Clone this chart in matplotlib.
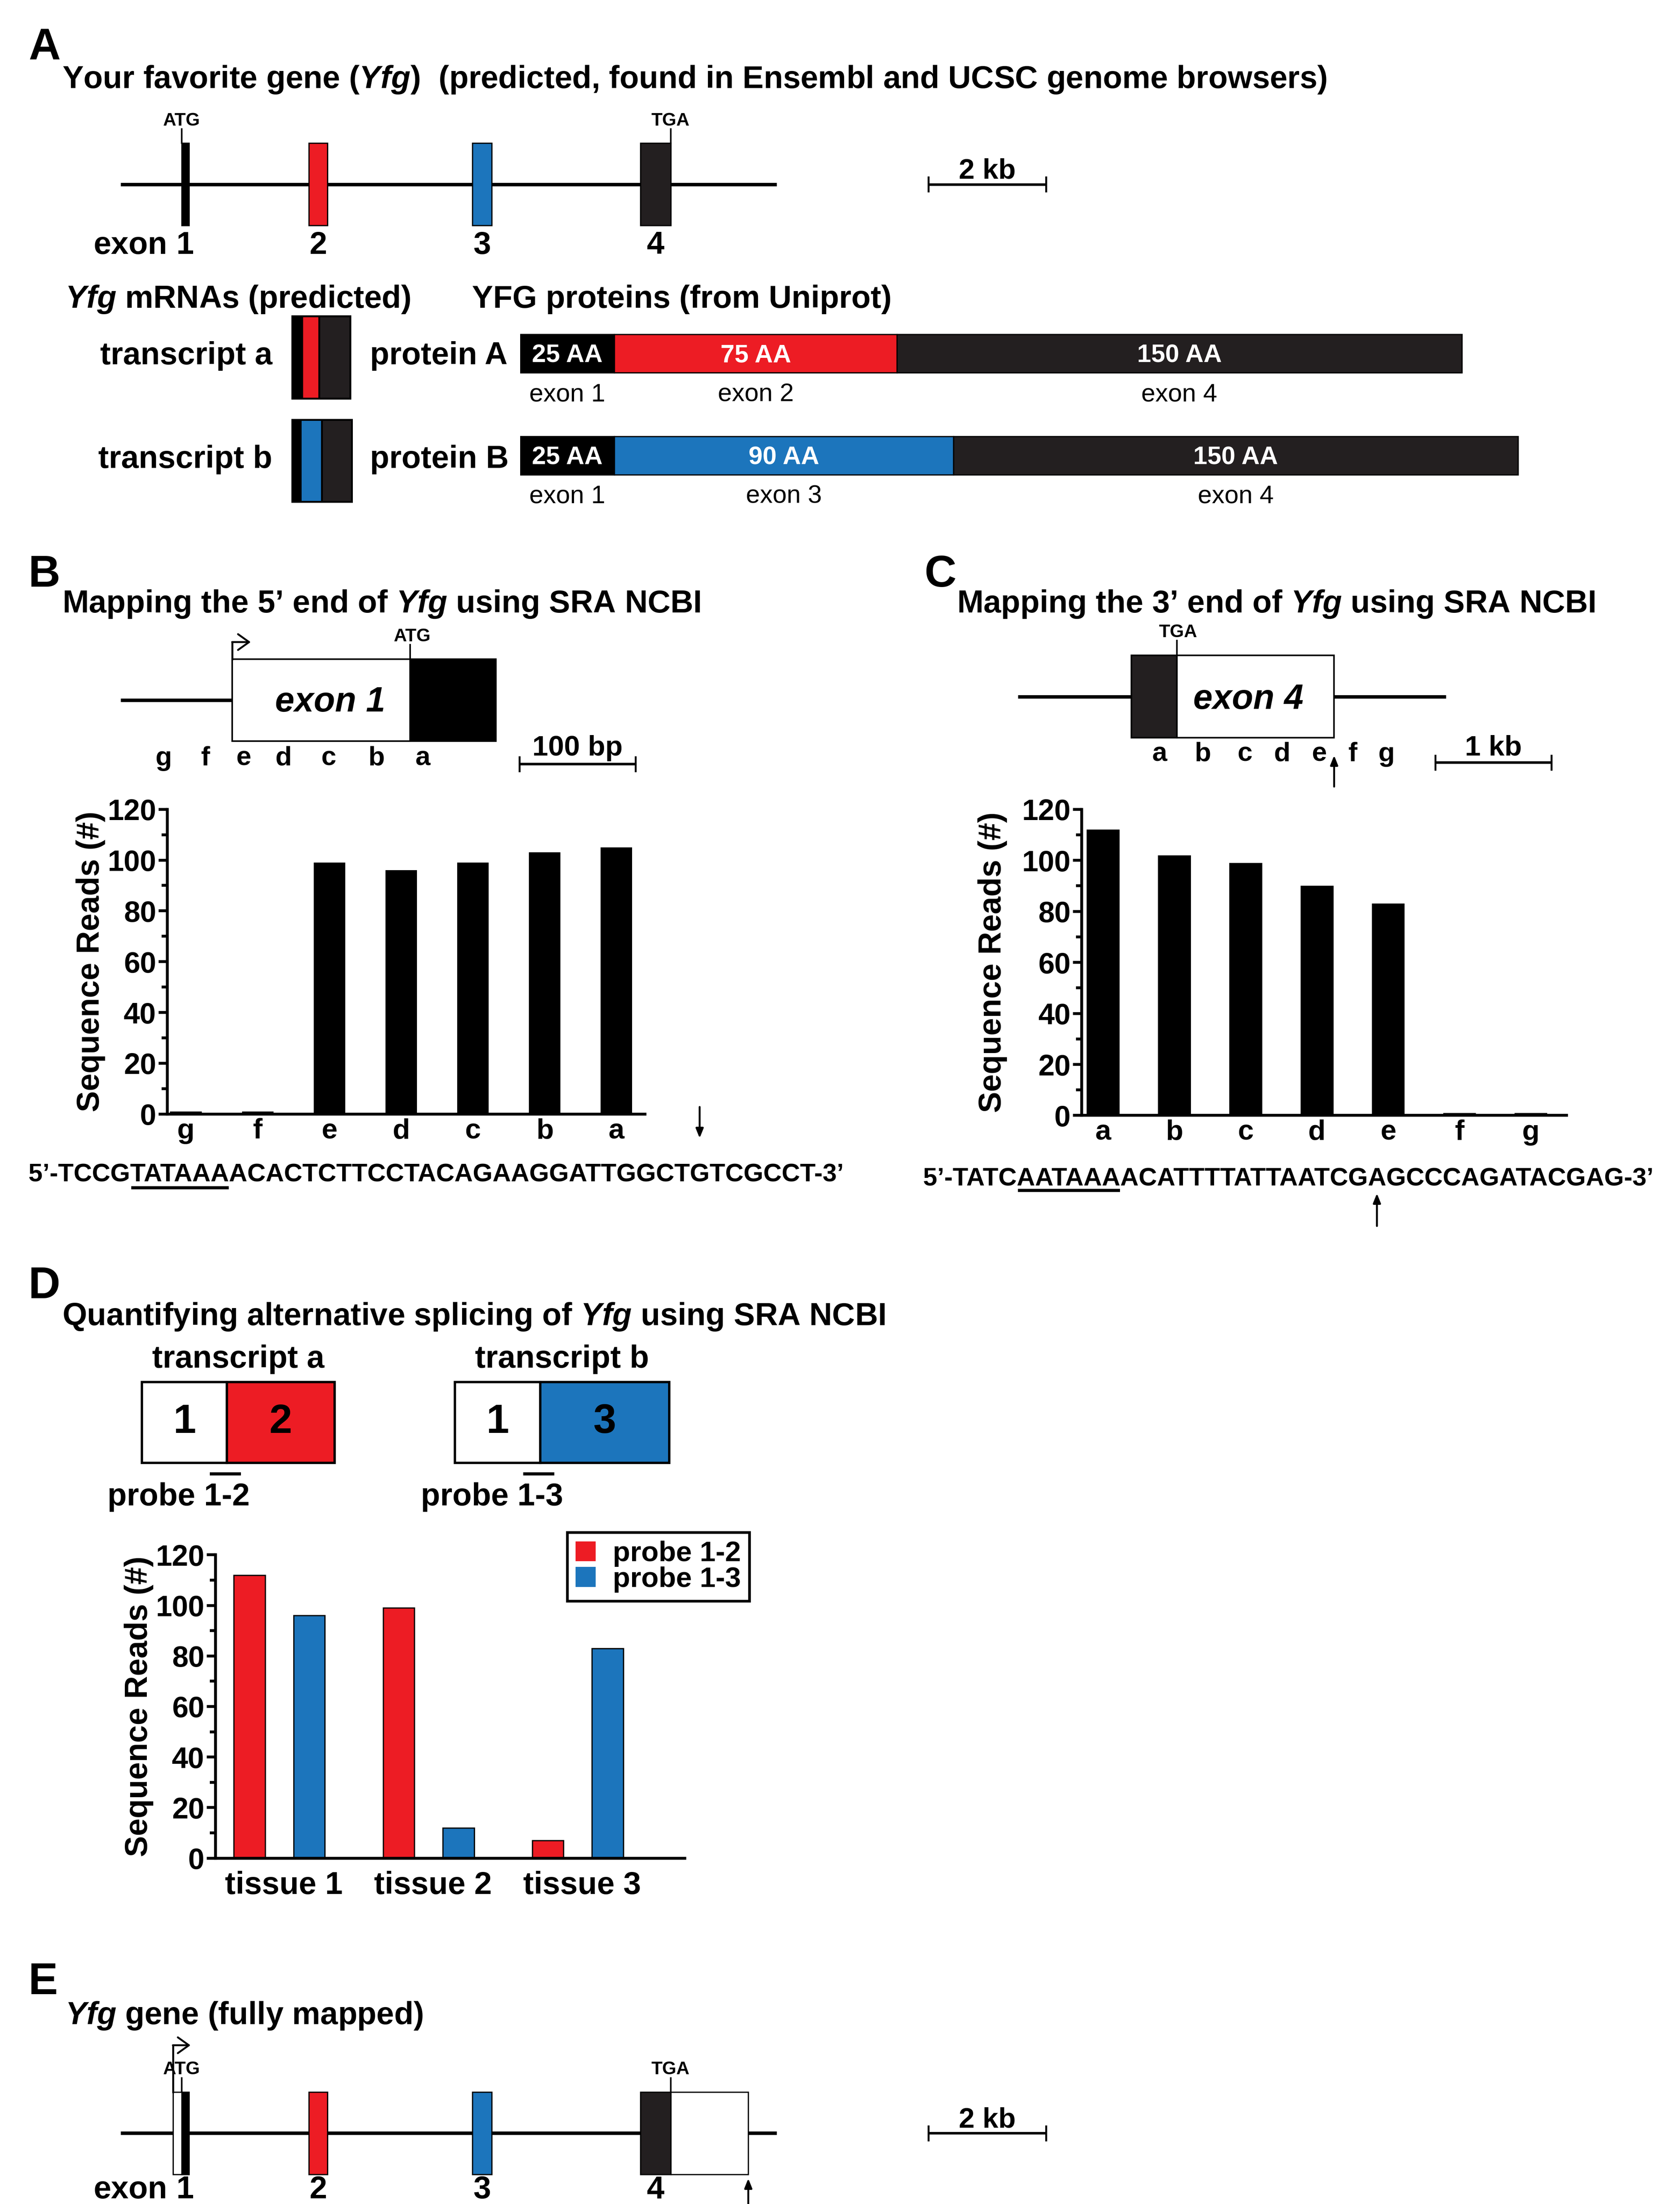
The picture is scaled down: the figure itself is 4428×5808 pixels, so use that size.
import numpy as np
import matplotlib
matplotlib.use('Agg')
import matplotlib.pyplot as plt
from matplotlib.patches import Patch

plt.rcParams['font.family'] = ['Liberation Sans', 'DejaVu Sans']
plt.rcParams['font.weight'] = 'bold'
plt.rcParams['axes.labelweight'] = 'bold'
plt.rcParams['mathtext.fontset'] = 'custom'
plt.rcParams['mathtext.it'] = 'Liberation Sans:bold:italic'
plt.rcParams['mathtext.rm'] = 'Liberation Sans:bold'
plt.rcParams['mathtext.bf'] = 'Liberation Sans:bold'

RED = '#ED1C24'
BLUE = '#1C75BC'
DARK = '#231F20'

# ---------------- data ----------------
# gene model (kb along the drawn gene line), panels A and E
gene_len_kb = 11.15
exon_labels = ['1', '2', '3', '4']
exon_start_kb = [1.04, 3.20, 5.98, 8.84]
exon_end_kb = [1.16, 3.52, 6.31, 9.35]
exon_colors = ['black', RED, BLUE, DARK]
utr5_kb = [0.89, 1.04]
utr3_kb = [9.35, 10.67]
gene_scale_kb = 2

# predicted mRNAs (schematic segment widths) and proteins (AA)
transcript_names = ['transcript a', 'transcript b']
transcript_segments = [[7, 12, 22], [6, 15, 21]]
transcript_colors = [['black', RED, DARK], ['black', BLUE, DARK]]
protein_names = ['protein A', 'protein B']
protein_aa = [[25, 75, 150], [25, 90, 150]]
protein_exons = [['exon 1', 'exon 2', 'exon 4'], ['exon 1', 'exon 3', 'exon 4']]
protein_colors = [['black', RED, DARK], ['black', BLUE, DARK]]

# panel B: 5' end
b_sites = ['g', 'f', 'e', 'd', 'c', 'b', 'a']
b_reads = [1, 1, 99, 96, 99, 103, 105]
b_site_bp = [37, 73, 106, 140, 179, 220, 260]
b_upstream_bp = [0, 96]
b_utr_bp = [96, 249]
b_cds_bp = [249, 323]
b_scale_bp = 100
seq5 = "5\u2019-TCCGTATAAAACACTCTTCCTACAGAAGGATTGGCTGTCGCCT-3\u2019"
seq5_box = (7, 6)      # TATAAA
seq5_site = 39         # transcription start

# panel C: 3' end
c_sites = ['a', 'b', 'c', 'd', 'e', 'f', 'g']
c_reads = [112, 102, 99, 90, 83, 1, 1]
c_site_kb = [1.22, 1.59, 1.95, 2.27, 2.59, 2.88, 3.17]
c_cds_kb = [0.976, 1.366]
c_utr_kb = [1.366, 2.72]
c_line_end_kb = 3.68
c_scale_kb = 1
seq3 = "5\u2019-TATCAATAAAACATTTTATTAATCGAGCCCAGATACGAG-3\u2019"
seq3_box = (7, 6)      # AATAAA
seq3_site = 28         # cleavage / polyA site

# panel D: alternative splicing
d_transcripts = ['transcript a', 'transcript b']
d_exons = [['1', '2'], ['1', '3']]
d_exon_widths = [[60, 76], [60, 91]]
d_exon_colors = [['white', RED], ['white', BLUE]]
tissues = ['tissue 1', 'tissue 2', 'tissue 3']
probe12 = [112, 99, 7]
probe13 = [96, 12, 83]

# ---------------- layout helpers (reference layout units) ----------------
W, H = 1185.0, 1555.0
fig = plt.figure(figsize=(14.76, 19.36), dpi=300)
ov = fig.add_axes([0, 0, 1, 1])
ov.set_xlim(0, W)
ov.set_ylim(H, 0)
ov.axis('off')
renderer = fig.canvas.get_renderer()


def add_ax(x0, y0, x1, y1):
    a = fig.add_axes([x0 / W, 1 - y1 / H, (x1 - x0) / W, (y1 - y0) / H])
    a.patch.set_alpha(0)
    return a


def track(x0, y0, x1, y1, px_per_unit):
    a = add_ax(x0, y0, x1, y1)
    a.set_xlim(0, (x1 - x0) / px_per_unit)
    a.set_ylim(y1, y0)
    a.axis('off')
    return a


def twidth(s, **kw):
    t = ov.text(0, 0, s, **kw)
    bb = t.get_window_extent(renderer)
    t.remove()
    return bb.width * W / fig.bbox.width


def label(x, y, s, fs=20, **kw):
    kw.setdefault('va', 'baseline')
    return ov.text(x, y, s, fontsize=fs, **kw)


def scale_bar(ax, x0, length, y, txt, ty):
    ax.plot([x0, x0 + length], [y, y], color='black', lw=1.6, solid_capstyle='butt')
    for xx in (x0, x0 + length):
        ax.plot([xx, xx], [y - 5, y + 5], color='black', lw=1.2)
    ax.text(x0 + length / 2, ty, txt, fontsize=18, ha='center', va='baseline')


def up_arrow(ax, x, y_from, y_to):
    ax.annotate('', xy=(x, y_to), xytext=(x, y_from),
                arrowprops=dict(arrowstyle='-|>,head_length=0.5,head_width=0.2',
                                lw=1.2, color='black', shrinkA=0, shrinkB=0))


def tss_arrow(ax, x, y_bottom, y_top, length):
    ax.plot([x, x], [y_bottom, y_top], color='black', lw=1.2)
    ax.annotate('', xy=(x + length, y_top), xytext=(x - 0.0001, y_top),
                arrowprops=dict(arrowstyle='->,head_length=0.7,head_width=0.5',
                                lw=1.2, color='black', shrinkA=0, shrinkB=0))


def draw_gene(ax, yc, num_y, mapped=False):
    ax.plot([0, gene_len_kb], [yc, yc], color='black', lw=2.2, solid_capstyle='butt', zorder=1)
    widths = np.subtract(exon_end_kb, exon_start_kb)
    ax.bar(exon_start_kb, 58, width=widths, bottom=yc - 29, align='edge',
           color=exon_colors, edgecolor='black', lw=0.8, zorder=2)
    if mapped:
        ax.bar([utr5_kb[0], utr3_kb[0]], 58,
               width=[utr5_kb[1] - utr5_kb[0], utr3_kb[1] - utr3_kb[0]],
               bottom=yc - 29, align='edge', color='white', edgecolor='black', lw=0.8, zorder=2)
    centers = (np.array(exon_start_kb) + np.array(exon_end_kb)) / 2
    for c, lab in zip(centers, exon_labels):
        ax.text(c, num_y, lab, fontsize=20, ha='center', va='baseline')
    ax.text(centers[0] - 0.3, num_y, 'exon', fontsize=20, ha='right', va='baseline')
    # start / stop codons
    ax.plot([exon_start_kb[0]] * 2, [yc - 39, yc - 29], color='black', lw=1.0)
    ax.text(exon_start_kb[0], yc - 41.5, 'ATG', fontsize=11.5, ha='center', va='baseline')
    ax.plot([exon_end_kb[3]] * 2, [yc - 39, yc - 29], color='black', lw=1.0)
    ax.text(exon_end_kb[3], yc - 41.5, 'TGA', fontsize=11.5, ha='center', va='baseline')
    scale_bar(ax, 13.73, gene_scale_kb, yc, '%d kb' % gene_scale_kb, yc - 4)


def draw_sequence(x0, yb, seq, box, site, arrow_from, arrow_to, ul_y, fs=16.1):
    kw = dict(fontsize=fs)
    label(x0, yb, seq, fs=fs)
    s0 = x0 + twidth(seq[:box[0]], **kw) + 1
    s1 = x0 + twidth(seq[:box[0] + box[1]], **kw)
    ov.plot([s0, s1], [ul_y, ul_y], color='black', lw=2.0, solid_capstyle='butt')
    xa = x0 + (twidth(seq[:site], **kw) + twidth(seq[:site + 1], **kw)) / 2
    up_arrow(ov, xa, arrow_from, arrow_to)


def reads_axis(ax, xlabel_size=18, xpad=2.5):
    ax.set_ylim(0, 120)
    ax.set_yticks(range(0, 121, 20))
    ax.set_yticks(range(10, 120, 20), minor=True)
    for s in ['top', 'right']:
        ax.spines[s].set_visible(False)
    for s in ['left', 'bottom']:
        ax.spines[s].set_linewidth(1.8)
    ax.tick_params(axis='y', which='major', length=5.5, width=1.8, labelsize=18.5, pad=1.5)
    ax.tick_params(axis='y', which='minor', length=3.5, width=1.8)
    ax.tick_params(axis='x', length=0, labelsize=xlabel_size, pad=xpad)
    for t in ax.get_xticklabels() + ax.get_yticklabels():
        t.set_fontweight('bold')
    ax.set_ylabel('Sequence Reads (#)', fontsize=20, fontweight='bold', va='center')


# ---------------- panel A ----------------
label(20, 42, 'A', fs=28)
label(44, 62, r'Your favorite gene ($\mathit{Yfg}$)  (predicted, found in Ensembl and UCSC genome browsers)')
axA = track(85, 70, 760, 190, 41.5)
draw_gene(axA, 130, 179)

label(46, 217, r'$\mathit{Yfg}$ mRNAs (predicted)')
label(333, 217, 'YFG proteins (from Uniprot)')
for i in range(2):
    yc = [252, 325][i]
    segs = transcript_segments[i]
    lefts = 206 + np.concatenate([[0], np.cumsum(segs)[:-1]])
    ov.barh(yc, segs, left=lefts, height=58, color=transcript_colors[i], edgecolor='black', lw=1.2)
    label(192, yc + 5, transcript_names[i], ha='right')
    label(261, yc + 5, protein_names[i])

axP = track(367, 225, 1100, 365, 2.656)
for i in range(2):
    yc = [249.5, 321.5][i]
    aa = protein_aa[i]
    lefts = np.concatenate([[0], np.cumsum(aa)[:-1]])
    axP.barh(yc, aa, left=lefts, height=27, color=protein_colors[i], edgecolor='black', lw=0.8)
    for l, w_, ex in zip(lefts, aa, protein_exons[i]):
        axP.text(l + w_ / 2, yc + 6, '%d AA' % w_, color='white', fontsize=16, ha='center', va='baseline')
        axP.text(l + w_ / 2, yc + 33.5, ex, fontsize=16, fontweight='normal', ha='center', va='baseline')

# ---------------- panel B ----------------
label(20, 414, 'B', fs=28)
label(44, 432, 'Mapping the 5\u2019 end of ' + r'$\mathit{Yfg}$' + ' using SRA NCBI')
axb = track(85, 440, 470, 560, 0.82)
yb = 494
axb.plot(b_upstream_bp, [yb, yb], color='black', lw=2.2, solid_capstyle='butt')
axb.bar(b_utr_bp[0], 58, width=b_utr_bp[1] - b_utr_bp[0], bottom=yb - 29, align='edge',
        color='white', edgecolor='black', lw=1.0)
axb.bar(b_cds_bp[0], 58, width=b_cds_bp[1] - b_cds_bp[0], bottom=yb - 29, align='edge',
        color='black', edgecolor='black', lw=1.0)
tss_arrow(axb, b_utr_bp[0], yb - 29, 453, 16)
axb.plot([b_cds_bp[0]] * 2, [455, yb - 29], color='black', lw=1.0)
axb.text(b_cds_bp[0] + 2, 452.5, 'ATG', fontsize=11.5, ha='center', va='baseline')
axb.text(sum(b_utr_bp) / 2 + 8, 502, 'exon 1', fontsize=22, style='italic', ha='center', va='baseline')
for xs, s in zip(b_site_bp, b_sites):
    axb.text(xs, 540, s, fontsize=17, ha='center', va='baseline')
scale_bar(axb, 343, b_scale_bp, 539, '%d bp' % b_scale_bp, 533)

axBB = add_ax(118, 571, 455, 786)
axBB.bar(range(len(b_sites)), b_reads, width=0.44, color='black')
axBB.set_xlim(-0.26, 6.40)
axBB.set_xticks(range(len(b_sites)))
axBB.set_xticklabels(b_sites)
reads_axis(axBB)
axBB.yaxis.set_label_coords(-0.16, 0.5)
draw_sequence(20, 833.5, seq5, seq5_box, seq5_site, 781, 803, 838)

# ---------------- panel C ----------------
label(652, 414, 'C', fs=28)
label(675, 432, 'Mapping the 3\u2019 end of ' + r'$\mathit{Yfg}$' + ' using SRA NCBI')
axc = track(718, 440, 1110, 560, 82.0)
yc3 = 491.5
axc.plot([0, c_cds_kb[0]], [yc3, yc3], color='black', lw=2.2, solid_capstyle='butt')
axc.plot([c_utr_kb[1], c_line_end_kb], [yc3, yc3], color='black', lw=2.2, solid_capstyle='butt')
axc.bar(c_cds_kb[0], 58, width=c_cds_kb[1] - c_cds_kb[0], bottom=yc3 - 29, align='edge',
        color=DARK, edgecolor='black', lw=1.0)
axc.bar(c_utr_kb[0], 58, width=c_utr_kb[1] - c_utr_kb[0], bottom=yc3 - 29, align='edge',
        color='white', edgecolor='black', lw=1.0)
axc.plot([c_cds_kb[1]] * 2, [452, yc3 - 29], color='black', lw=1.0)
axc.text(c_cds_kb[1] + 0.01, 449.5, 'TGA', fontsize=11.5, ha='center', va='baseline')
axc.text(sum(c_utr_kb) / 2 - 0.06, 500, 'exon 4', fontsize=22, style='italic', ha='center', va='baseline')
for xs, s in zip(c_site_kb, c_sites):
    axc.text(xs, 537, s, fontsize=17, ha='center', va='baseline')
up_arrow(axc, c_utr_kb[1], 555, 533)
scale_bar(axc, 3.59, c_scale_kb, 538, '%d kb' % c_scale_kb, 533)

axCB = add_ax(763, 571, 1105, 787)
axCB.bar(range(len(c_sites)), c_reads, width=0.46, color='black')
axCB.set_xlim(-0.3, 6.5)
axCB.set_xticks(range(len(c_sites)))
axCB.set_xticklabels(c_sites)
reads_axis(axCB)
axCB.yaxis.set_label_coords(-0.184, 0.5)
draw_sequence(651, 836.5, seq3, seq3_box, seq3_site, 865, 842, 840)

# ---------------- panel D ----------------
label(20, 916, 'D', fs=28)
label(44, 935, r'Quantifying alternative splicing of $\mathit{Yfg}$ using SRA NCBI')
d_left = [100, 321]
for i in range(2):
    widths = d_exon_widths[i]
    lefts = d_left[i] + np.concatenate([[0], np.cumsum(widths)[:-1]])
    ov.barh(1003.5, widths, left=lefts, height=57, color=d_exon_colors[i], edgecolor='black', lw=1.5)
    for l, w_, lab in zip(lefts, widths, d_exons[i]):
        label(l + w_ / 2, 1011, lab, fs=26, ha='center')
    junction = lefts[1]
    ov.plot([junction - 12, junction + 10], [1040, 1040], color='black', lw=2.0, solid_capstyle='butt')
    label(junction - 34, 1062, 'probe 1-%s' % d_exons[i][1], ha='center')
    label(d_left[i] + sum(widths) / 2, 965, d_transcripts[i], ha='center')

axDB = add_ax(152, 1097, 483, 1311)
xt = np.arange(len(tissues))
b1 = axDB.bar(xt - 0.2, probe12, width=0.21, color=RED, edgecolor='black', lw=0.8)
b2 = axDB.bar(xt + 0.2, probe13, width=0.21, color=BLUE, edgecolor='black', lw=0.8)
axDB.set_xlim(-0.428, 2.717)
axDB.set_xticks(xt + 0.03)
axDB.set_xticklabels(tissues)
reads_axis(axDB, xlabel_size=20, xpad=8)
axDB.yaxis.set_label_coords(-0.163, 0.5)
leg = axDB.legend(handles=[Patch(facecolor=RED, edgecolor='none'), Patch(facecolor=BLUE, edgecolor='none')],
                  labels=['probe 1-2', 'probe 1-3'], loc='upper left',
                  bbox_to_anchor=(400 / W, 1 - 1081 / H), bbox_transform=fig.transFigure,
                  prop={'size': 18, 'weight': 'bold'}, frameon=True, fancybox=False,
                  framealpha=1, edgecolor='black',
                  handlelength=0.7, handleheight=0.7, handletextpad=0.6, borderpad=0.3,
                  labelspacing=-0.02, borderaxespad=0)
leg.get_frame().set_linewidth(1.7)

# ---------------- panel E ----------------
label(20, 1407, 'E', fs=28)
label(46, 1428, r'$\mathit{Yfg}$ gene (fully mapped)')
axE = track(85, 1435, 760, 1560, 41.5)
draw_gene(axE, 1505, 1551, mapped=True)
tss_arrow(axE, utr5_kb[0], 1476, 1443, 0.3)
up_arrow(axE, utr3_kb[1], 1555, 1537)

fig.savefig('out.png', dpi=300, facecolor='white')
